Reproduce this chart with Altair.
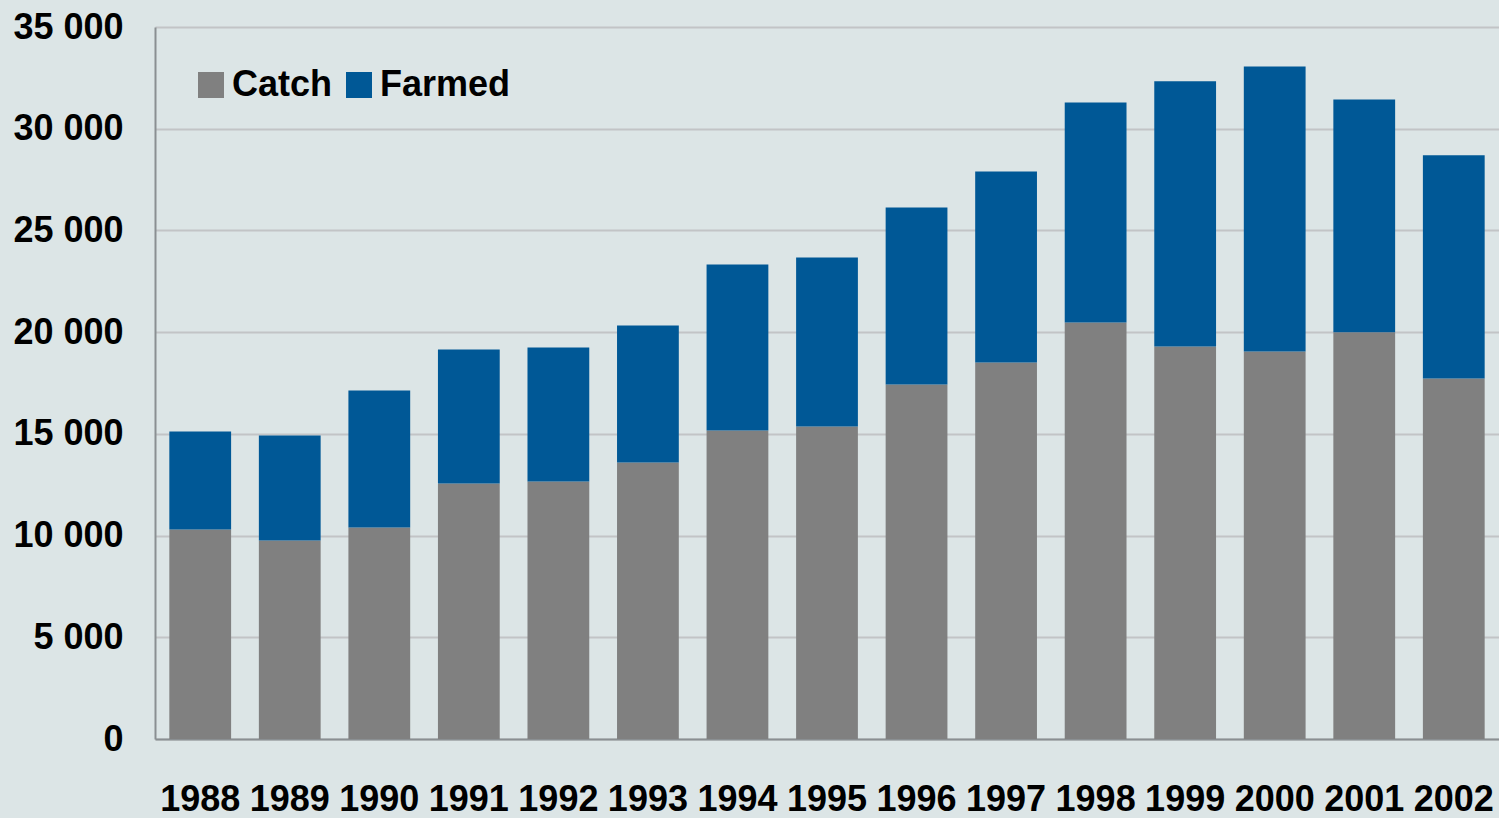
import altair as alt
import pandas as pd

years = ["1988", "1989", "1990", "1991", "1992", "1993", "1994", "1995",
         "1996", "1997", "1998", "1999", "2000", "2001", "2002"]
catch = [10300, 9760, 10400, 12560, 12660, 13590, 15170, 15360,
         17430, 18510, 20480, 19300, 19050, 19990, 17720]
total = [15120, 14920, 17130, 19150, 19250, 20330, 23330, 23670,
         26130, 27900, 31290, 32330, 33060, 31440, 28690]
farmed = [t - c for t, c in zip(total, catch)]
series = ["Catch", "Farmed"]
colors = ["#808080", "#005896"]
y_ticks = [0, 5000, 10000, 15000, 20000, 25000, 30000, 35000]

rows = []
for y, c, f in zip(years, catch, farmed):
    rows.append({"year": y, "series": "Catch", "value": c, "ord": 0})
    rows.append({"year": y, "series": "Farmed", "value": f, "ord": 1})
df = pd.DataFrame(rows)

FONT = "Liberation Sans, Arial, sans-serif"
FS = 36

chart = alt.Chart(df).mark_bar().encode(
    x=alt.X("year:N", sort=years, title=None,
            scale=alt.Scale(paddingInner=0.31, paddingOuter=0.16),
            axis=alt.Axis(labelAngle=0, ticks=False, labelPadding=43,
                          labelFont=FONT, labelFontSize=FS, labelFontWeight="bold",
                          labelColor="#000000", domainColor="#8a8f92", domainWidth=2,
                          labelFlush=False, labelOverlap=False)),
    y=alt.Y("value:Q", stack="zero", title=None,
            scale=alt.Scale(domain=[0, 35000], nice=False),
            axis=alt.Axis(values=y_ticks, ticks=False, labelPadding=32,
                          labelExpr="replace(format(datum.value, ','), ',', ' ')",
                          labelFont=FONT, labelFontSize=FS, labelFontWeight="bold",
                          labelColor="#000000", domainColor="#8a8f92", domainWidth=2,
                          grid=True, gridColor="#c2c4c6", gridWidth=2)),
    color=alt.Color("series:N", scale=alt.Scale(domain=series, range=colors),
                    legend=alt.Legend(title=None, orient="none", legendX=38, legendY=40,
                                      direction="horizontal", symbolType="square",
                                      symbolSize=676, symbolStrokeWidth=0,
                                      labelFont=FONT, labelFontSize=FS,
                                      labelFontWeight="bold", labelColor="#000000",
                                      labelOffset=3, columnPadding=8, padding=0)),
    order=alt.Order("ord:Q", sort="ascending"),
).properties(
    width=1344, height=712,
    background="#dce5e6",
    padding={"left": 155, "top": 27, "right": 0, "bottom": 79},
    autosize=alt.AutoSizeParams(type="none"),
).configure_view(stroke=None)

chart.save("out.html", embed_options={"renderer": "svg", "actions": False})
